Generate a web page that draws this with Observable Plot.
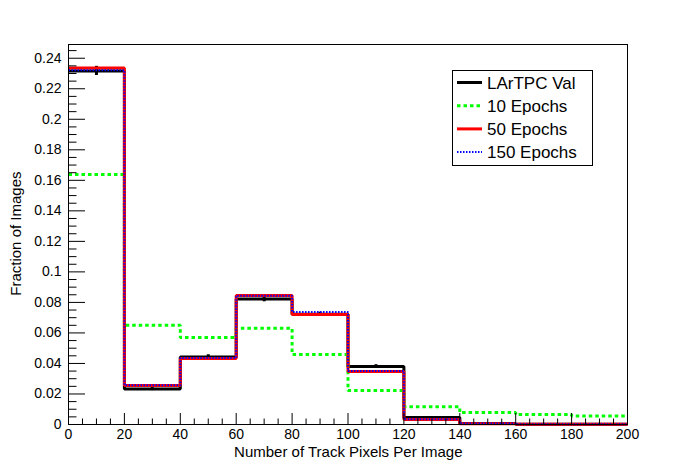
<!DOCTYPE html>
<html>
<head>
<meta charset="utf-8">
<script src="https://cdn.jsdelivr.net/npm/d3@7"></script>
<script src="https://cdn.jsdelivr.net/npm/@observablehq/plot@0.6"></script>
<style>
  html, body { margin: 0; padding: 0; background: #fff; }
  #chart { width: 696px; height: 472px; }
</style>
</head>
<body>
<div id="chart"></div>
<script>
// ---- data ----
const binEdges = [0, 20, 40, 60, 80, 100, 120, 140, 160, 180, 200];
const lartpcVal = [0.2317, 0.0232, 0.0443, 0.0822, 0.0722, 0.0380, 0.0046, 0.0007, 0.0002, 0.0001];
const lartpcErr = [0.0030, 0.0010, 0.0014, 0.0018, 0.0014, 0.0012, 0.0005, 0.0002, 0.0001, 0.0001];
const epochs10 = [0.1638, 0.0650, 0.0570, 0.0630, 0.0458, 0.0222, 0.0116, 0.0078, 0.0065, 0.0056];
const epochs50 = [0.2336, 0.0255, 0.0432, 0.0846, 0.0721, 0.0348, 0.0033, 0.0005, 0.0002, 0.0001];
const epochs150 = [0.2322, 0.0258, 0.0436, 0.0843, 0.0737, 0.0350, 0.0034, 0.0006, 0.0002, 0.0001];
const seriesNames = ["LArTPC Val", "10 Epochs", "50 Epochs", "150 Epochs"];
const yMajorTicks = [0, 0.02, 0.04, 0.06, 0.08, 0.1, 0.12, 0.14, 0.16, 0.18, 0.2, 0.22, 0.24];
const yMinorTicks = [0.005, 0.01, 0.015, 0.025, 0.03, 0.035, 0.045, 0.05, 0.055, 0.065, 0.07, 0.075,
  0.085, 0.09, 0.095, 0.105, 0.11, 0.115, 0.125, 0.13, 0.135, 0.145, 0.15, 0.155, 0.165, 0.17, 0.175,
  0.185, 0.19, 0.195, 0.205, 0.21, 0.215, 0.225, 0.23, 0.235, 0.245];
const xMajorTicks = [0, 20, 40, 60, 80, 100, 120, 140, 160, 180, 200];
const xMinorTicks = [5, 10, 15, 25, 30, 35, 45, 50, 55, 65, 70, 75, 85, 90, 95, 105, 110, 115,
  125, 130, 135, 145, 150, 155, 165, 170, 175, 185, 190, 195];
const xTitle = "Number of Track Pixels Per Image";
const yTitle = "Fraction of Images";

// ---- layout ----
const W = 696, H = 472;
const mL = 68, mR = 69, mT = 44, mB = 48;
const innerW = W - mL - mR, innerH = H - mT - mB;
const font = "'Liberation Sans', Arial, Helvetica, sans-serif";

function steps(values) {
  const pts = values.map((v, i) => ({x: binEdges[i], y: v}));
  pts.push({x: binEdges[binEdges.length - 1], y: values[values.length - 1]});
  return pts;
}
const centers = lartpcVal.map((v, i) => ({
  x: (binEdges[i] + binEdges[i + 1]) / 2, lo: v - lartpcErr[i], hi: v + lartpcErr[i]
}));

const styles = [
  {stroke: "#000000", strokeWidth: 3},
  {stroke: "#00ff00", strokeWidth: 3, strokeDasharray: "3.5,3"},
  {stroke: "#ff0000", strokeWidth: 3},
  {stroke: "#0000ff", strokeWidth: 2, strokeDasharray: "1.5,1.5"}
];
const lineCommon = {x: "x", y: "y", curve: "step-after", strokeLinecap: "butt", strokeLinejoin: "miter"};

const chart = Plot.plot({
  width: W, height: H,
  marginLeft: mL, marginRight: mR, marginTop: mT, marginBottom: mB,
  style: {fontFamily: font, background: "#fff", color: "#000"},
  x: {domain: [0, 200]},
  y: {domain: [0, 0.249]},
  marks: [
    Plot.line(steps(lartpcVal), {...lineCommon, ...styles[0]}),
    Plot.ruleX(centers, {x: "x", y1: "lo", y2: "hi", stroke: "#000", strokeWidth: 3}),
    Plot.line(steps(epochs10), {...lineCommon, ...styles[1]}),
    Plot.line(steps(epochs50), {...lineCommon, ...styles[2]}),
    Plot.line(steps(epochs150), {...lineCommon, ...styles[3]}),
    Plot.frame({stroke: "#000", strokeWidth: 1}),
    Plot.tickY(yMajorTicks, {y: d => d, stroke: "#000", insetRight: innerW - 17}),
    Plot.tickY(yMinorTicks, {y: d => d, stroke: "#000", insetRight: innerW - 8.5}),
    Plot.tickX(xMajorTicks, {x: d => d, stroke: "#000", insetTop: innerH - 11}),
    Plot.tickX(xMinorTicks, {x: d => d, stroke: "#000", insetTop: innerH - 5.5}),
    Plot.axisY(yMajorTicks, {tickSize: 0, tickPadding: 7, fontSize: 14, tickFormat: d => String(d), label: null}),
    Plot.axisX(xMajorTicks, {tickSize: 0, tickPadding: 5, fontSize: 14, tickFormat: d => String(d), label: null}),
    Plot.text([xTitle], {text: d => d, frameAnchor: "bottom-right", textAnchor: "end", lineAnchor: "bottom",
      dx: 462 - (W - mR), dy: 456 - (H - mB), fontSize: 15}),
    Plot.text([yTitle], {text: d => d, frameAnchor: "top-left", textAnchor: "end", lineAnchor: "middle",
      rotate: -90, dx: 16 - mL, dy: 171 - mT, fontSize: 15})
  ]
});
document.getElementById("chart").appendChild(chart);

// ---- legend (ROOT TLegend style, inside the pad) ----
const svg = d3.select(chart);
const lg = svg.append("g").attr("font-family", font).attr("text-anchor", "start");
lg.append("rect").attr("x", 452.5).attr("y", 70.5).attr("width", 140).attr("height", 95)
  .attr("fill", "#fff").attr("stroke", "#000").attr("stroke-width", 1);
seriesNames.forEach((name, i) => {
  const cy = 82.5 + i * 23.2;
  const st = styles[i];
  lg.append("line").attr("x1", 457).attr("x2", 482).attr("y1", cy).attr("y2", cy)
    .attr("stroke", st.stroke).attr("stroke-width", st.strokeWidth)
    .attr("stroke-linecap", "butt")
    .attr("stroke-dasharray", st.strokeDasharray || null);
  lg.append("text").attr("x", 487).attr("y", cy).attr("dy", "0.36em")
    .attr("text-anchor", "start")
    .attr("font-size", 17).attr("fill", "#000").text(name);
});
</script>
</body>
</html>
